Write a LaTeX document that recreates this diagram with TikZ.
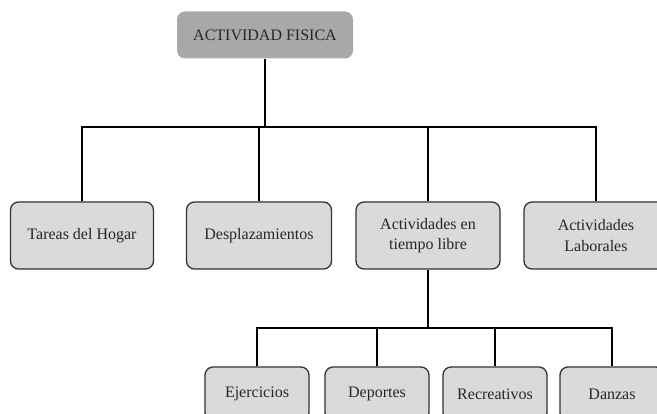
\documentclass[tikz,border=0pt]{standalone}
\usepackage{fontspec}
\setmainfont{Liberation Serif}
\definecolor{topfill}{HTML}{A8A8A8}
\definecolor{boxfill}{HTML}{DADADA}
\definecolor{boxline}{HTML}{333333}
\tikzset{
  box/.style={draw=boxline, line width=1.3pt, rounded corners=8pt, fill=boxfill,
    align=center, inner sep=0pt, text=black!85,
    font=\fontsize{16}{20.5}\selectfont},
  topbox/.style={box, fill=topfill, draw=none},
  conn/.style={line width=2.4pt, black}
}
\begin{document}
\begin{tikzpicture}[x=1pt,y=-1pt]
\useasboundingbox (0,0) rectangle (657,414);
\clip (0,0) rectangle (657,414);
\node[topbox, minimum width=176pt, minimum height=47pt] (top) at (265,35) {ACTIVIDAD FISICA};
\node[box, minimum width=143pt, minimum height=67pt] (hogar) at (82,235.5) {Tareas del Hogar};
\node[box, minimum width=145pt, minimum height=67pt] (despl) at (259,235.5) {Desplazamientos};
\node[box, minimum width=144pt, minimum height=67pt] (libre) at (428,235.5) {Actividades en\\tiempo libre};
\node[box, minimum width=144pt, minimum height=67pt] (lab) at (596,235.5) {Actividades\\Laborales};
\node[box, minimum width=104pt, minimum height=54pt] (ejer) at (257,394) {Ejercicios};
\node[box, minimum width=104pt, minimum height=54pt] (dep) at (377,394) {Deportes};
\node[box, minimum width=104pt, minimum height=54pt] (rec) at (495,394) {Recreativos};
\node[box, minimum width=104pt, minimum height=54pt] (dan) at (612,394) {Danzas};
\coordinate (bus1) at (0,127);
\coordinate (bus2) at (0,328);
\draw[conn] (top.south) -- (top.south |- bus1);
\draw[conn] (hogar.north) -- (hogar.north |- bus1) -- (lab.north |- bus1) -- (lab.north);
\draw[conn] (despl.north |- bus1) -- (despl.north);
\draw[conn] (libre.north |- bus1) -- (libre.north);
\draw[conn] (libre.south) -- (libre.south |- bus2);
\draw[conn] (ejer.north) -- (ejer.north |- bus2) -- (dan.north |- bus2) -- (dan.north);
\draw[conn] (dep.north |- bus2) -- (dep.north);
\draw[conn] (rec.north |- bus2) -- (rec.north);
\end{tikzpicture}
\end{document}
